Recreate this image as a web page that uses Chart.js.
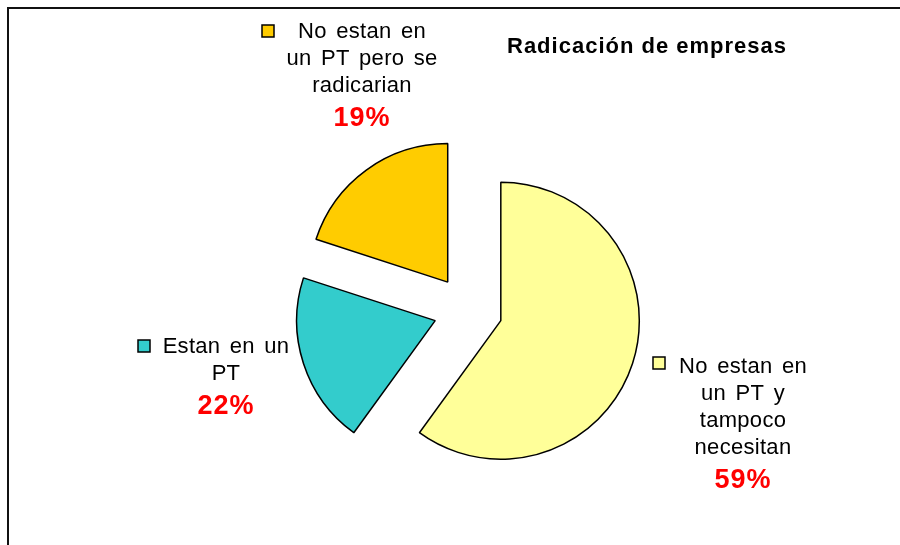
<!DOCTYPE html>
<html>
<head>
<meta charset="utf-8">
<script src="https://cdn.jsdelivr.net/npm/chart.js@4"></script>
<style>
  html, body { margin: 0; padding: 0; background: #fff; }
  #wrap { position: relative; width: 900px; height: 545px; }
</style>
</head>
<body>
<div id="wrap"><canvas id="pie" width="900" height="545"></canvas></div>
<script>
// data
const chartTitle = 'Radicación de empresas';
const categories = [
  'No estan en un PT y tampoco necesitan',
  'Estan en un PT',
  'No estan en un PT pero se radicarian'
];
const labelLines = [
  ['No estan en', 'un PT y', 'tampoco', 'necesitan'],
  ['Estan en un', 'PT'],
  ['No estan en', 'un PT pero se', 'radicarian']
];
// slice sizes as drawn in the picture
const sliceValues = [60, 20, 20];
// percentages printed on the labels
const pctLabels = ['59%', '22%', '19%'];

// look
const sliceColors = ['#FFFF99', '#33CCCC', '#FFCC00'];
const EXPLODE = 34.5;
// where each label block sits: text centre x, first line y, legend key x/y
const labelPos = [
  { x: 743, y: 367, keyX: 653, keyY: 357 },
  { x: 226, y: 347, keyX: 138, keyY: 340 },
  { x: 362, y: 32,  keyX: 262, keyY: 25 }
];

// pull every slice out from the centre along its mid angle
const explodePlugin = {
  id: 'explode',
  afterDatasetsUpdate(chart) {
    chart.getDatasetMeta(0).data.forEach(arc => {
      const mid = (arc.startAngle + arc.endAngle) / 2;
      arc.x += Math.cos(mid) * EXPLODE;
      arc.y += Math.sin(mid) * EXPLODE;
    });
  }
};

const decorPlugin = {
  id: 'decor',
  afterDraw(chart) {
    const ctx = chart.ctx;
    ctx.save();
    // frame (top + left only)
    ctx.strokeStyle = '#111';
    ctx.lineWidth = 2;
    ctx.beginPath();
    ctx.moveTo(8, 545);
    ctx.lineTo(8, 8);
    ctx.lineTo(900, 8);
    ctx.stroke();

    // title
    ctx.fillStyle = '#000';
    ctx.font = 'bold 22px "Liberation Sans", Arial, sans-serif';
    ctx.letterSpacing = '1px';
    ctx.wordSpacing = '0px';
    ctx.textAlign = 'center';
    ctx.textBaseline = 'middle';
    ctx.fillText(chartTitle, 647, 47);

    // slice labels
    labelLines.forEach((lines, i) => {
      const p = labelPos[i];
      ctx.fillStyle = sliceColors[i];
      ctx.fillRect(p.keyX, p.keyY, 12, 12);
      ctx.strokeStyle = '#000';
      ctx.lineWidth = 1.5;
      ctx.strokeRect(p.keyX, p.keyY, 12, 12);

      ctx.fillStyle = '#000';
      ctx.font = '22px "Liberation Sans", Arial, sans-serif';
      ctx.letterSpacing = '0.3px';
      ctx.wordSpacing = '3px';
      ctx.textAlign = 'center';
      lines.forEach((t, j) => ctx.fillText(t, p.x, p.y + j * 27));

      ctx.fillStyle = '#FF0000';
      ctx.font = 'bold 27px "Liberation Sans", Arial, sans-serif';
      ctx.letterSpacing = '1px';
      ctx.wordSpacing = '0px';
      ctx.fillText(pctLabels[i], p.x, p.y + (lines.length - 1) * 27 + 33);
    });
    ctx.restore();
  }
};

new Chart(document.getElementById('pie'), {
  type: 'pie',
  data: {
    labels: categories,
    datasets: [{
      data: sliceValues,
      backgroundColor: sliceColors,
      borderColor: '#000',
      borderWidth: 1.5
    }]
  },
  options: {
    responsive: false,
    animation: false,
    radius: 138.5,
    layout: { padding: { left: 36, top: 75, right: 0, bottom: 0 } },
    plugins: {
      legend: { display: false },
      tooltip: { enabled: false }
    }
  },
  plugins: [explodePlugin, decorPlugin]
});
</script>
</body>
</html>
